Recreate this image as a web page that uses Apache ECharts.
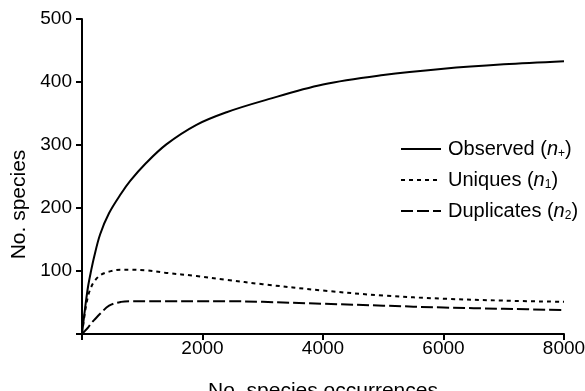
<!DOCTYPE html>
<html>
<head>
<meta charset="utf-8">
<script src="https://cdn.jsdelivr.net/npm/echarts@6/dist/echarts.min.js"></script>
<style>html,body{margin:0;padding:0;background:#fff;}#c{width:585px;height:391px;}</style>
</head>
<body>
<div id="c"></div>
<script>
// Data
var occurrences = [0, 50, 100, 150, 200, 300, 450, 650, 800, 1060, 1400, 1900, 2400, 3000, 4000, 5000, 6000, 7000, 8000];
var observed    = [0, 40, 75, 100, 122, 158, 192, 223, 243, 271, 301, 332, 352, 370, 396, 411, 421, 428, 433];
var uniques     = [0, 35, 60, 74, 83, 93, 99, 102, 102, 101, 97, 92, 86, 79, 69, 61, 56, 53, 51];
var duplicates  = [0, 5, 10, 17, 22, 32, 45, 51, 52, 52, 52, 52, 52, 51, 48, 45, 42, 40, 38];
var seriesNames = ['Observed', 'Uniques', 'Duplicates'];
var seriesSubs  = ['+', '1', '2'];
var yTicks = [100, 200, 300, 400, 500];
var xTicks = [2000, 4000, 6000, 8000];

function pairs(ys) { return occurrences.map(function (x, i) { return [x, ys[i]]; }); }

var FONT = 'Liberation Sans';
var chart = echarts.init(document.getElementById('c'), null, {renderer: 'canvas'});
var dashTypes = ['solid', [4, 4], [12, 4]];
var values = [observed, uniques, duplicates];
var series = seriesNames.map(function (n, i) {
  return {
    name: n,
    type: 'line',
    data: pairs(values[i]),
    symbol: 'none',
    showSymbol: false,
    smooth: 0.35,
    lineStyle: {color: '#000', width: 2, type: dashTypes[i]},
    itemStyle: {color: '#000'},
    silent: true,
    animation: false
  };
});

chart.setOption({
  animation: false,
  backgroundColor: '#fff',
  grid: {left: 82, right: 21, top: 19, bottom: 57, containLabel: false, outerBoundsMode: 'none'},
  xAxis: {
    type: 'value',
    min: 0, max: 8000, interval: 2000,
    name: 'No. species occurrences',
    nameLocation: 'middle',
    nameGap: 47,
    nameTextStyle: {fontFamily: FONT, fontSize: 21, color: '#000'},
    axisLine: {show: true, onZero: false, lineStyle: {color: '#000', width: 2}},
    axisTick: {show: true, length: 6, inside: false, lineStyle: {color: '#000', width: 2}},
    axisLabel: {
      margin: 5, fontFamily: FONT, fontSize: 19, color: '#000',
      formatter: function (v) { return xTicks.indexOf(v) >= 0 ? String(v) : ''; }
    },
    splitLine: {show: false}
  },
  yAxis: {
    type: 'value',
    min: 0, max: 500, interval: 100,
    name: 'No. species',
    nameLocation: 'middle',
    nameGap: 51,
    nameRotate: 90,
    nameTextStyle: {fontFamily: FONT, fontSize: 21, color: '#000', padding: [0, 56, 0, 0]},
    axisLine: {show: true, onZero: false, lineStyle: {color: '#000', width: 2}},
    axisTick: {show: true, length: 6, lineStyle: {color: '#000', width: 2}},
    axisLabel: {
      margin: 10, fontFamily: FONT, fontSize: 19, color: '#000',
      formatter: function (v) { return yTicks.indexOf(v) >= 0 ? String(v) : ''; }
    },
    splitLine: {show: false}
  },
  legend: {
    orient: 'vertical',
    left: 395,
    top: 134,
    itemWidth: 40,
    itemHeight: 14,
    itemGap: 10,
    selectedMode: false,
    data: seriesNames,
    itemStyle: {opacity: 0},
    formatter: function (name) {
      var i = seriesNames.indexOf(name);
      return '{t|' + name + ' (}{i|n}{s|' + seriesSubs[i] + '}{t|)}';
    },
    textStyle: {
      fontFamily: FONT, fontSize: 20, color: '#000', padding: [0, 0, 0, 2],
      rich: {
        t: {fontFamily: FONT, fontSize: 20, color: '#000'},
        i: {fontFamily: FONT, fontSize: 20, fontStyle: 'italic', color: '#000'},
        s: {fontFamily: FONT, fontSize: 12, color: '#000', padding: [10, 0, 0, 0]}
      }
    }
  },
  series: series
});
</script>
</body>
</html>
